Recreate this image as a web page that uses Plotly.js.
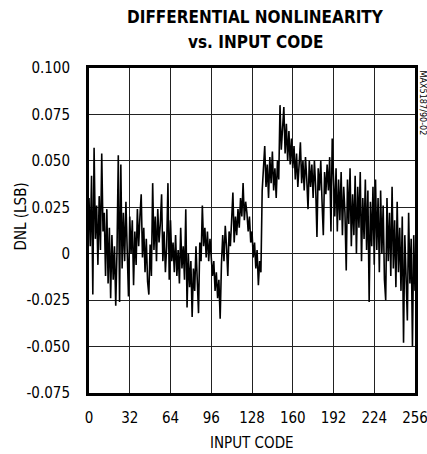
<!DOCTYPE html>
<html>
<head>
<meta charset="utf-8">
<script src="https://cdn.plot.ly/plotly-3.0.1.min.js"></script>
<style>html,body{margin:0;padding:0;background:#fff;}#chart{width:427px;height:454px;}</style>
</head>
<body>
<div id="chart"></div>
<script>
// DNL (LSB) read per input code 0..256
const dnl = [
 0.030, 0.004, 0.042,-0.022, 0.057, 0.008, 0.026,-0.006,
 0.031, 0.002, 0.054, 0.012, 0.022,-0.012, 0.024,-0.016,
 0.014,-0.024, 0.010,-0.014, 0.004,-0.028, 0.002, 0.053,
-0.026, 0.048,-0.008, 0.022,-0.004, 0.028, 0.002,-0.023,
 0.020, 0.000, 0.018,-0.017, 0.012,-0.006, 0.024, 0.004,
 0.020, 0.032,-0.002, 0.014,-0.010, 0.008,-0.015,-0.022,
 0.005,-0.012, 0.038, 0.002, 0.020,-0.004, 0.024, 0.006,
 0.016, 0.032,-0.004, 0.012,-0.010, 0.004, 0.038,-0.014,
 0.018,-0.004, 0.006,-0.010, 0.010,-0.012, 0.002,-0.016,
 0.014,-0.008, 0.004,-0.014, 0.024,-0.029, 0.000,-0.018,
-0.004,-0.034,-0.008,-0.020, 0.004,-0.016,-0.032, 0.006,
-0.004, 0.026, 0.004, 0.014,-0.002, 0.012,-0.004, 0.008,
-0.006,-0.012,-0.004,-0.020,-0.010,-0.024,-0.014,-0.035,
-0.006, 0.010,-0.004, 0.015, 0.004,-0.012, 0.012, 0.004,
 0.018, 0.033, 0.006, 0.020, 0.010, 0.024, 0.014, 0.030,
 0.020, 0.038, 0.018, 0.028, 0.022, 0.012, 0.020, 0.006,
 0.012,-0.002, 0.006,-0.008, 0.002,-0.017,-0.004,-0.010,
 0.034, 0.050, 0.058, 0.036, 0.048, 0.030, 0.052, 0.038,
 0.055, 0.034, 0.046, 0.030, 0.050, 0.040, 0.080, 0.056,
 0.068, 0.079, 0.054, 0.070, 0.050, 0.066, 0.048, 0.062,
 0.046, 0.058, 0.040, 0.054, 0.036, 0.052, 0.060, 0.038,
 0.050, 0.034, 0.052, 0.040, 0.024, 0.050, 0.036, 0.048,
 0.030, 0.050, 0.036, 0.009, 0.046, 0.034, 0.050, 0.028,
 0.010, 0.044, 0.032, 0.048, 0.034, 0.052, 0.012, 0.062,
 0.040, 0.020, 0.046, 0.012, 0.040, 0.018, 0.044, 0.010,
 0.036, 0.022,-0.009, 0.040, 0.016, 0.046, 0.004, 0.032,
 0.010, 0.042, 0.000, 0.036, 0.014, 0.044,-0.004, 0.030,
 0.008, 0.040, 0.002, 0.034,-0.026, 0.028, 0.004, 0.036,
-0.006, 0.040, 0.002, 0.030,-0.010, 0.034, 0.000, 0.026,
-0.014,-0.025, 0.030,-0.004, 0.022,-0.012, 0.036,-0.008,
 0.018,-0.018, 0.028,-0.010, 0.014,-0.020, 0.020,-0.048,
 0.010,-0.022,-0.036, 0.022,-0.016, 0.008,-0.050, 0.010,
-0.020
];
const codes = dnl.map((_, i) => i);

const xTickVals = [0, 32, 64, 96, 128, 160, 192, 224, 256];
const yTickVals = [-0.075, -0.05, -0.025, 0, 0.025, 0.05, 0.075, 0.1];
const yTickText = ['-0.075', '-0.050', '-0.025', '0', '0.025', '0.050', '0.075', '0.100'];

const FAM = '"DejaVu Sans Condensed", "Liberation Sans Narrow", Arial, sans-serif';
const tickFont = {family: FAM, size: 15, color: '#000'};

const trace = {
  x: codes, y: dnl, type: 'scatter', mode: 'lines',
  line: {color: '#000', width: 1.6}, hoverinfo: 'skip'
};

const layout = {
  width: 427, height: 454,
  margin: {l: 89, r: 12, t: 68, b: 61, pad: 0},
  paper_bgcolor: '#fff', plot_bgcolor: '#fff',
  showlegend: false,
  xaxis: {
    range: [0, 256], tickvals: xTickVals, ticktext: xTickVals.map(String),
    showgrid: true, gridcolor: '#222', gridwidth: 1,
    zeroline: false, showline: true, linecolor: '#000', linewidth: 3, mirror: true,
    ticks: '', ticklabelstandoff: 9, ticklabeloverflow: 'allow', tickfont: tickFont
  },
  yaxis: {
    range: [-0.075, 0.1], tickvals: yTickVals, ticktext: yTickText,
    showgrid: true, gridcolor: '#222', gridwidth: 1,
    zeroline: false, showline: true, linecolor: '#000', linewidth: 3, mirror: true,
    ticks: '', ticklabelstandoff: 13, ticklabeloverflow: 'allow', tickfont: tickFont
  },
  annotations: [
    {
      text: '<b>DIFFERENTIAL NONLINEARITY</b>', showarrow: false,
      xref: 'paper', yref: 'paper', x: 0.5, y: 1, xanchor: 'center', yanchor: 'middle', xshift: 3, yshift: 51,
      font: {family: FAM, size: 17, color: '#000'}
    },
    {
      text: '<b>vs. INPUT CODE</b>', showarrow: false,
      xref: 'paper', yref: 'paper', x: 0.5, y: 1, xanchor: 'center', yanchor: 'middle', xshift: 3, yshift: 26,
      font: {family: FAM, size: 17, color: '#000'}
    },
    {
      text: 'INPUT CODE', showarrow: false,
      xref: 'paper', yref: 'paper', x: 0.5, y: 0, xanchor: 'center', yanchor: 'middle', yshift: -50,
      font: tickFont
    },
    {
      text: 'DNL (LSB)', showarrow: false, textangle: -90,
      xref: 'paper', yref: 'paper', x: 0, y: 0.5, xanchor: 'center', yanchor: 'middle', xshift: -69, yshift: 14,
      font: tickFont
    },
    {
      text: 'MAX5187/90-02', textangle: 90, showarrow: false,
      xref: 'paper', yref: 'paper', x: 1.0, y: 1.0, xanchor: 'left', yanchor: 'top', xshift: 1,
      font: {family: FAM, size: 9, color: '#000'}
    }
  ]
};

Plotly.newPlot('chart', [trace], layout, {displayModeBar: false, staticPlot: true});
</script>
</body>
</html>
